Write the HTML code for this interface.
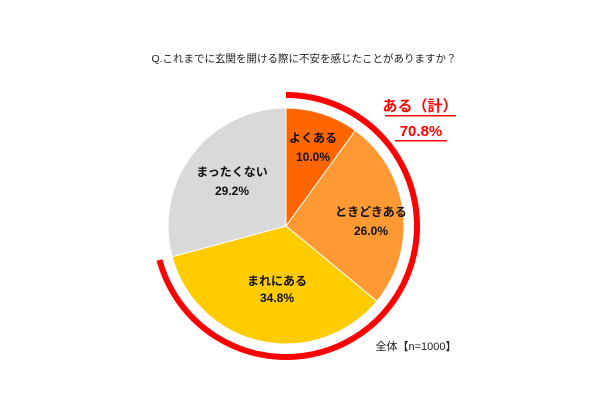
<!DOCTYPE html>
<html><head><meta charset="utf-8"><style>
body{margin:0;background:#fff;}
svg text{font-family:"Liberation Sans","Noto Sans CJK JP",sans-serif;}
</style></head><body>
<svg width="600" height="400" viewBox="0 0 600 400" xmlns="http://www.w3.org/2000/svg">
<rect width="600" height="400" fill="#fff"/>
<text x="304" y="62" font-size="10.5" text-anchor="middle" fill="#222">Q.これまでに玄関を開ける際に不安を感じたことがありますか？</text>
<g stroke="#fff" stroke-width="1">
<path d="M286,226 L286,108 A118,118 0 0 1 355.4,130.5 Z" fill="#FF6600"/>
<path d="M286,226 L355.4,130.5 A118,118 0 0 1 376.9,301.2 Z" fill="#FF9933"/>
<path d="M286,226 L376.9,301.2 A118,118 0 0 1 172.1,256.7 Z" fill="#FFCC00"/>
<path d="M286,226 L172.1,256.7 A118,118 0 0 1 286,108 Z" fill="#D9D9D9"/>
</g>
<path d="M286,95 A131,131 0 1 1 159.5,260" fill="none" stroke="#FF0000" stroke-width="6"/>
<g font-size="12" font-weight="bold" text-anchor="middle" fill="#111">
<text x="313" y="142">よくある</text><text x="313" y="161">10.0%</text>
<text x="371" y="216">ときどきある</text><text x="371" y="235">26.0%</text>
<text x="277" y="285">まれにある</text><text x="277" y="302">34.8%</text>
<text x="232" y="176">まったくない</text><text x="232" y="195">29.2%</text>
</g>
<g fill="#FF0000" font-size="15" font-weight="bold" text-anchor="middle">
<text x="420" y="111">ある（計）</text>
<text x="421" y="136">70.8%</text>
</g>
<rect x="385" y="115" width="71" height="1.5" fill="#FF0000"/>
<rect x="395" y="140" width="52" height="1.5" fill="#FF0000"/>
<text x="416" y="350" font-size="11" text-anchor="middle" fill="#222">全体【n=1000】</text>
</svg>
</body></html>
